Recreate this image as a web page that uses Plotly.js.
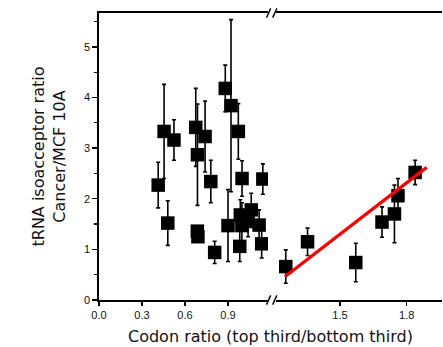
<!DOCTYPE html>
<html>
<head>
<meta charset="utf-8">
<script src="https://cdn.plot.ly/plotly-3.0.1.min.js"></script>
<style>html,body{margin:0;padding:0;background:#fff;}#chart{width:443px;height:347px;}</style>
</head>
<body>
<div id="chart"></div>
<script>
// Left segment of the broken x axis (codon ratio 0 - 1.2)
const leftX   = [0.413, 0.48, 0.454, 0.523, 0.675, 0.74, 0.687, 0.78, 0.686, 0.69, 0.807, 0.881, 0.921, 0.972, 0.998, 1.143, 0.90, 0.986, 1.062, 1.117, 0.997, 1.04, 0.982, 1.135];
const leftY   = [2.27, 1.52, 3.33, 3.16, 3.41, 3.23, 2.87, 2.34, 1.36, 1.25, 0.94, 4.18, 3.84, 3.33, 2.40, 2.39, 1.47, 1.68, 1.78, 1.48, 1.47, 1.55, 1.06, 1.11];
const leftErr = [0.45, 0.44, 0.93, 0.40, 0.77, 0.70, 1.00, 0.42, 0.05, 0.05, 0.22, 0.46, 1.70, 0.55, 0.35, 0.30, 0.71, 0.30, 0.33, 0.30, 0.45, 0.30, 0.30, 0.28];
// Right segment (codon ratio > 1.2)
const rightX   = [1.256, 1.354, 1.571, 1.689, 1.745, 1.761, 1.838];
const rightY   = [0.66, 1.15, 0.74, 1.54, 1.70, 2.06, 2.52];
const rightErr = [0.33, 0.27, 0.38, 0.30, 0.57, 0.34, 0.24];
// Linear fit (red line)
const fitX = [1.252, 1.89];
const fitY = [0.46, 2.62];

const yTitle = "tRNA isoacceptor ratio<br>Cancer/MCF 10A";
const xTitle = "Codon ratio (top third/bottom third)";

const marker = {symbol: 'square', size: 13.5, color: '#000'};
const errStyle = (arr) => ({type: 'data', array: arr, visible: true, color: '#000', thickness: 1.6, width: 2});

const traces = [
  {x: leftX, y: leftY, xaxis: 'x', yaxis: 'y', mode: 'markers', type: 'scatter', marker: marker, error_y: errStyle(leftErr), hoverinfo: 'x+y'},
  {x: rightX, y: rightY, xaxis: 'x2', yaxis: 'y', mode: 'markers', type: 'scatter', marker: marker, error_y: errStyle(rightErr), hoverinfo: 'x+y'},
  {x: fitX, y: fitY, xaxis: 'x2', yaxis: 'y', mode: 'lines', type: 'scatter', line: {color: '#ff0000', width: 3.2}, hoverinfo: 'skip'}
];

const tickFont = {family: 'Liberation Sans, Arial, sans-serif', size: 11, color: '#111'};
const baseX = {
  showgrid: false, zeroline: false, showline: true, linecolor: '#000', linewidth: 1.6,
  mirror: true, ticks: 'outside', ticklen: 4, tickwidth: 1.4, tickcolor: '#000',
  tickfont: tickFont, tickformat: '.1f', tick0: 0, dtick: 0.3, anchor: 'y'
};

const bx = 0.5035; // break position in paper coords
const shapes = [];
[[0, -0.016, 0.016], [1, 0.984, 1.016]].forEach(function (b) {
  [-0.009, 0.009].forEach(function (off) {
    shapes.push({type: 'line', xref: 'paper', yref: 'paper',
      x0: bx + off - 0.006, x1: bx + off + 0.006, y0: b[1], y1: b[2],
      line: {color: '#000', width: 1.4}});
  });
});

const layout = {
  width: 443, height: 347,
  margin: {l: 99, r: 1, t: 13, b: 47},
  paper_bgcolor: '#fff', plot_bgcolor: '#fff',
  showlegend: false,
  xaxis: Object.assign({}, baseX, {domain: [0, 0.4927], range: [0, 1.179]}),
  xaxis2: Object.assign({}, baseX, {domain: [0.516, 1], range: [1.212, 1.959]}),
  yaxis: {
    domain: [0, 1], range: [0, 5.67], anchor: 'x',
    showgrid: false, zeroline: false, showline: true, linecolor: '#000', linewidth: 1.6,
    ticks: 'outside', ticklen: 5, tickwidth: 1.4, tickcolor: '#000', dtick: 1, tick0: 0,
    minor: {dtick: 0.5, ticks: 'outside', ticklen: 3, tickwidth: 1.2, tickcolor: '#000'},
    tickfont: tickFont,
    title: {text: yTitle, font: {family: 'DejaVu Sans, sans-serif', size: 16, color: '#111'}, standoff: 14}
  },
  shapes: shapes,
  annotations: [{
    text: xTitle, xref: 'paper', yref: 'paper', x: 0.5, y: 0, yshift: -36,
    xanchor: 'center', yanchor: 'middle', showarrow: false,
    font: {family: 'DejaVu Sans, sans-serif', size: 16, color: '#111'}
  }]
};

Plotly.newPlot('chart', traces, layout, {displayModeBar: false, staticPlot: true});
</script>
</body>
</html>
